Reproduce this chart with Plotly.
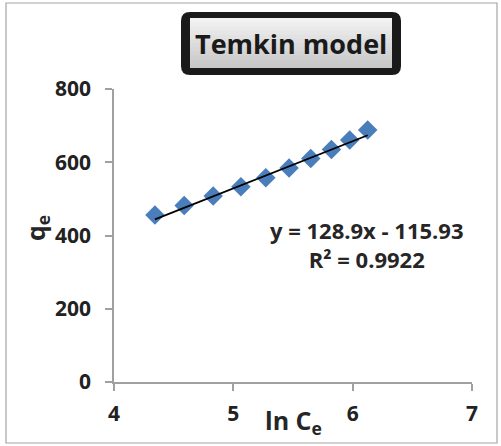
import plotly.graph_objects as go

# ---- data ----
ln_ce = [4.343, 4.588, 4.831, 5.063, 5.272, 5.467, 5.649, 5.822, 5.975, 6.126]
qe = [456, 482, 508, 533, 558, 584, 610, 635, 661, 688]
slope = 128.9
intercept = -115.93
r2 = 0.9922
x_ticks = [4, 5, 6, 7]
y_ticks = [0, 200, 400, 600, 800]
title_text = "Temkin model"

W, H = 501, 446
L, R, T, B = 114, 472, 89, 382  # plot area pixel bounds


def px(x, y):
    return ((x - L) / (R - L), (B - y) / (B - T))


def rect_path(x0, y0, x1, y1, r):
    def P(x, y):
        a, b = px(x, y)
        return f"{a:.5f},{b:.5f}"
    d = (f"M {P(x0 + r, y0)} L {P(x1 - r, y0)} Q {P(x1, y0)} {P(x1, y0 + r)} "
         f"L {P(x1, y1 - r)} Q {P(x1, y1)} {P(x1 - r, y1)} "
         f"L {P(x0 + r, y1)} Q {P(x0, y1)} {P(x0, y1 - r)} "
         f"L {P(x0, y0 + r)} Q {P(x0, y0)} {P(x0 + r, y0)} Z")
    return d


fig = go.Figure()
fig.add_trace(go.Scatter(
    x=ln_ce, y=qe, mode="markers",
    marker=dict(symbol="diamond", size=15, color="#4A7EBB", line=dict(width=0)),
    showlegend=False, hoverinfo="skip"))
fit_x = [ln_ce[0], ln_ce[-1]]
fit_y = [slope * v + intercept for v in fit_x]
fig.add_trace(go.Scatter(
    x=fit_x, y=fit_y, mode="lines",
    line=dict(color="#000000", width=1.8),
    showlegend=False, hoverinfo="skip"))

shapes = []
# outer chart border
a0, b0 = px(6, 3)
a1, b1 = px(497, 443)
shapes.append(dict(type="rect", xref="paper", yref="paper", x0=a0, y0=b1, x1=a1, y1=b0,
                   line=dict(color="#A6A6A6", width=1.2), fillcolor="rgba(0,0,0,0)", layer="below"))
# title box outer dark
shapes.append(dict(type="path", xref="paper", yref="paper", path=rect_path(181, 12, 401, 75, 9),
                   fillcolor="#1A1A1A", line=dict(width=0)))
# inner gradient bands (each band runs to the bottom, so no seams)
ix0, iy0, ix1, iy1 = 190, 18, 392, 68
n = 12
for i in range(n):
    ya = iy0 + (iy1 - iy0) * i / n
    t = i / (n - 1)
    c = int(242 - t * (242 - 200))
    p0 = px(ix0, ya)
    p1 = px(ix1, iy1)
    shapes.append(dict(type="rect", xref="paper", yref="paper", x0=p0[0], y0=p1[1], x1=p1[0], y1=p0[1],
                       fillcolor=f"rgb({c},{c},{c})", line=dict(width=0)))

font_fam = "Open Sans"
annotations = []
tx, ty = px(291, 43)
annotations.append(dict(xref="paper", yref="paper", x=tx, y=ty, text=f"<b>{title_text}</b>",
                        showarrow=False, xanchor="center", yanchor="middle",
                        font=dict(family=font_fam, size=27, color="#1A1A1A")))
ex, ey = px(367, 245)
annotations.append(dict(xref="paper", yref="paper", x=ex, y=ey,
                        text=f"<b>y = {slope}x - {abs(intercept)}</b><br><b>R² = {r2}</b>",
                        showarrow=False, xanchor="center", yanchor="middle", align="center",
                        font=dict(family=font_fam, size=22, color="#262626")))
xx, xy = px(293, 421)
annotations.append(dict(xref="paper", yref="paper", x=xx, y=xy, text="<b>ln C<sub>e</sub></b>",
                        showarrow=False, xanchor="center", yanchor="middle",
                        font=dict(family=font_fam, size=25, color="#262626")))
yx, yy = px(36, 228)
annotations.append(dict(xref="paper", yref="paper", x=yx, y=yy, text="<b>q<sub>e</sub></b>",
                        showarrow=False, xanchor="center", yanchor="middle", textangle=-90,
                        font=dict(family=font_fam, size=25, color="#262626")))

axis_common = dict(showgrid=False, zeroline=False, showline=True, linecolor="#A0A0A0", linewidth=1.5,
                   ticks="outside", ticklen=7, tickwidth=1.5, tickcolor="#A0A0A0",
                   tickfont=dict(family=font_fam, size=21, color="#222222", weight="bold"),
                   fixedrange=True)

fig.update_layout(
    width=W, height=H,
    margin=dict(l=L, r=W - R, t=T, b=H - B, pad=0),
    paper_bgcolor="white", plot_bgcolor="white",
    xaxis=dict(range=[4, 7], tickvals=x_ticks, ticktext=[str(v) for v in x_ticks], **axis_common),
    yaxis=dict(range=[0, 800], tickvals=y_ticks, ticktext=[str(v) for v in y_ticks],
               ticklabelstandoff=10, **axis_common),
    shapes=shapes, annotations=annotations,
)
fig.update_xaxes(ticklabelstandoff=5)

fig.write_html("out.html", config=dict(displayModeBar=False),
               post_script="document.body.style.margin='0';document.body.style.padding='0';")
